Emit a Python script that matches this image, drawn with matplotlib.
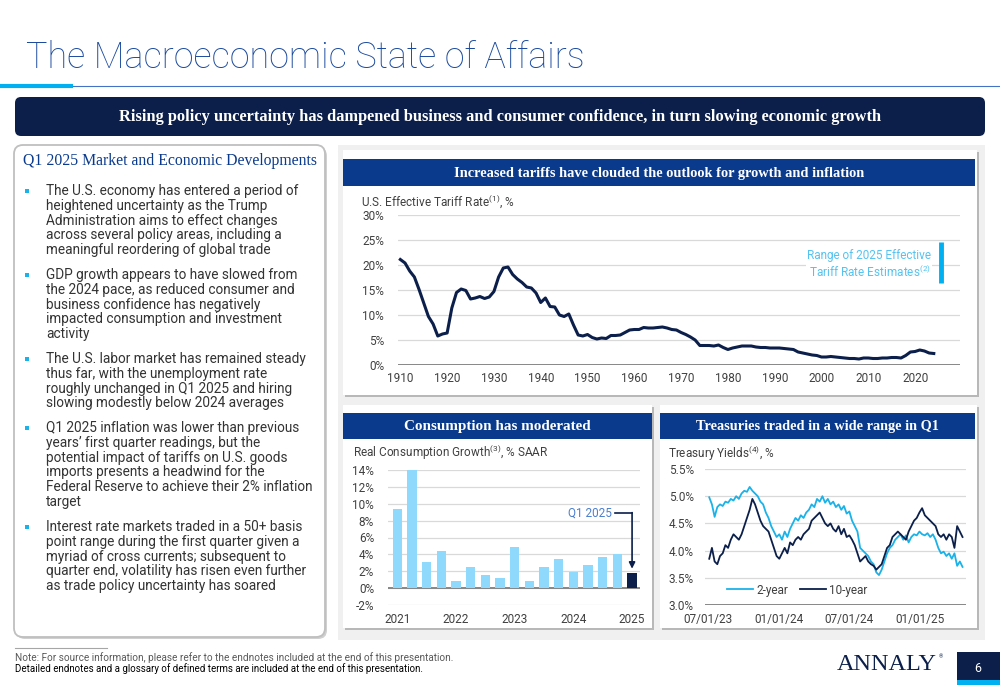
import matplotlib.pyplot as plt
import matplotlib.ticker as mticker
import matplotlib.dates as mdates
from matplotlib.patches import Rectangle, FancyBboxPatch
import pandas as pd

plt.rcParams['font.family'] = ['Roboto', 'DejaVu Sans']
plt.rcParams['mathtext.default'] = 'regular'

NAVY = '#0b1f4a'
BLUE = '#0a3a8c'
CYAN = '#1ab2e8'
LIGHT = '#8fdafc'
GRID = '#d9d9d9'
TXT = '#404040'
SERIF = ['Liberation Serif', 'DejaVu Serif']

# --- data ---------------------------------------------------------------
tariff_years = list(range(1910, 2025))
tariff_rate = [
    21.1, 20.4, 18.8, 17.6, 15.1, 12.4, 9.7, 8.2, 5.8, 6.2,
    6.4, 11.4, 14.5, 15.2, 14.9, 13.2, 13.4, 13.7, 13.3, 13.6,
    14.7, 17.6, 19.4, 19.6, 18.1, 17.2, 16.5, 15.6, 15.4, 14.4,
    12.5, 13.4, 11.7, 11.6, 10.0, 9.7, 10.2, 8.0, 6.0, 5.8,
    6.1, 5.5, 5.2, 5.4, 5.3, 5.9, 5.9, 6.0, 6.5, 7.0,
    7.1, 7.1, 7.5, 7.4, 7.4, 7.5, 7.6, 7.4, 7.1, 7.0,
    6.5, 6.1, 5.6, 5.0, 3.9, 3.9, 3.9, 3.8, 4.0, 3.5,
    3.1, 3.4, 3.6, 3.8, 3.8, 3.8, 3.6, 3.5, 3.5, 3.4,
    3.4, 3.4, 3.3, 3.2, 3.1, 2.6, 2.4, 2.2, 2.0, 1.9,
    1.6, 1.6, 1.7, 1.6, 1.5, 1.4, 1.3, 1.3, 1.2, 1.4,
    1.4, 1.3, 1.3, 1.4, 1.4, 1.5, 1.5, 1.4, 1.9, 2.6,
    2.7, 3.0, 2.8, 2.4, 2.3,
]
tariff_range_2025 = [16.5, 24.5]
tariff_ticks = list(range(1910, 2021, 10))

cons_growth = [9.4, 14.0, 3.1, 4.4, 0.9, 2.5, 1.5, 1.2, 4.9, 0.9,
               2.5, 3.4, 1.9, 2.8, 3.7, 4.0, 1.8]
cons_tick_pos = [0, 4, 8, 12, 16]
cons_tick_labels = ['2021', '2022', '2023', '2024', '2025']

yield_start = '2023-07-03'
two_year = [
    4.98, 4.85, 4.62, 4.80, 4.85, 4.82, 4.90, 4.88, 4.95, 4.92,
    5.00, 4.95, 5.05, 5.10, 5.08, 5.17, 5.10, 5.05, 5.00, 4.90,
    4.85, 4.70, 4.60, 4.45, 4.35, 4.25, 4.30, 4.20, 4.35, 4.25,
    4.40, 4.50, 4.60, 4.55, 4.65, 4.60, 4.70, 4.75, 4.85, 4.80,
    4.95, 4.90, 5.00, 4.88, 4.95, 4.85, 4.90, 4.80, 4.85, 4.75,
    4.82, 4.68, 4.72, 4.55, 4.45, 4.35, 4.05, 4.00, 3.95, 3.90,
    3.80, 3.75, 3.60, 3.55, 3.65, 3.80, 3.95, 4.05, 4.10, 4.20,
    4.25, 4.30, 4.20, 4.28, 4.15, 4.25, 4.30, 4.28, 4.35, 4.30,
    4.28, 4.32, 4.25, 4.30, 4.20, 4.05, 3.95, 3.98, 3.90, 3.95,
    3.85, 3.95, 3.72, 3.80, 3.70,
]
ten_year = [
    3.85, 4.05, 3.80, 3.75, 3.90, 3.95, 4.10, 4.05, 4.20, 4.30,
    4.25, 4.20, 4.30, 4.45, 4.60, 4.75, 4.95, 4.85, 4.70, 4.55,
    4.45, 4.40, 4.35, 4.20, 4.05, 3.90, 3.85, 3.95, 4.05, 3.95,
    4.15, 4.10, 4.20, 4.25, 4.20, 4.30, 4.35, 4.40, 4.55, 4.60,
    4.65, 4.70, 4.60, 4.50, 4.45, 4.50, 4.40, 4.35, 4.45, 4.30,
    4.40, 4.25, 4.28, 4.20, 4.10, 3.95, 3.80, 3.85, 3.90, 3.80,
    3.75, 3.72, 3.65, 3.70, 3.75, 3.90, 4.05, 4.10, 4.25, 4.30,
    4.35, 4.30, 4.25, 4.20, 4.35, 4.45, 4.55, 4.60, 4.70, 4.78,
    4.65, 4.60, 4.55, 4.50, 4.45, 4.30, 4.25, 4.30, 4.20, 4.30,
    4.25, 4.05, 4.45, 4.35, 4.25,
]
yield_ticks = ['2023-07-01', '2024-01-01', '2024-07-01', '2025-01-01']

bullets = [
    ["The U.S. economy has entered a period of",
     "heightened uncertainty as the Trump",
     "Administration aims to effect changes",
     "across several policy areas, including a",
     "meaningful reordering of global trade"],
    ["GDP growth appears to have slowed from",
     "the 2024 pace, as reduced consumer and",
     "business confidence has negatively",
     "impacted consumption and investment",
     "activity"],
    ["The U.S. labor market has remained steady",
     "thus far, with the unemployment rate",
     "roughly unchanged in Q1 2025 and hiring",
     "slowing modestly below 2024 averages"],
    ["Q1 2025 inflation was lower than previous",
     "years\u2019 first quarter readings, but the",
     "potential impact of tariffs on U.S. goods",
     "imports presents a headwind for the",
     "Federal Reserve to achieve their 2% inflation",
     "target"],
    ["Interest rate markets traded in a 50+ basis",
     "point range during the first quarter given a",
     "myriad of cross currents; subsequent to",
     "quarter end, volatility has risen even further",
     "as trade policy uncertainty has soared"],
]
bullet_y = [191, 275, 359, 428, 527]


def px(x0, y0, x1, y1):
    # pixel box (top-left origin) -> figure fraction rect
    return [x0 / 1000, 1 - y1 / 685, (x1 - x0) / 1000, (y1 - y0) / 685]


fig = plt.figure(figsize=(10, 6.85), dpi=100)

# background layer in pixel coordinates
bg = fig.add_axes([0, 0, 1, 1])
bg.set_xlim(0, 1000)
bg.set_ylim(685, 0)
bg.axis('off')

bg.text(26, 58, 'The Macroeconomic State of Affairs', fontsize=25.8, color='#1a4a9e',
        fontweight='light', va='center', ha='left')
bg.plot([0, 73], [86, 86], color='#00b0f0', lw=3, solid_capstyle='butt')
bg.plot([73, 1000], [86, 86], color='#4472c4', lw=0.8)

bg.add_patch(FancyBboxPatch((15, 97), 970, 39, boxstyle='round,pad=0,rounding_size=6',
                            fc=NAVY, ec='none'))
bg.text(500, 116.5, 'Rising policy uncertainty has dampened business and consumer confidence, '
        'in turn slowing economic growth', color='white', fontsize=11.8, fontweight='bold',
        family=SERIF, ha='center', va='center')

# left panel
bg.add_patch(FancyBboxPatch((16, 147), 311, 492, boxstyle='round,pad=0,rounding_size=9',
                            fc='#d0d0d0', ec='none'))
bg.add_patch(FancyBboxPatch((14, 145), 311, 492, boxstyle='round,pad=0,rounding_size=9',
                            fc='white', ec='#bfbfbf', lw=1.3))
bg.text(23, 161, 'Q1 2025 Market and Economic Developments', color=BLUE, fontsize=11.3,
        family=SERIF, ha='left', va='center')
for lines, y0 in zip(bullets, bullet_y):
    bg.add_patch(Rectangle((24.5, y0 - 2.5), 4.5, 4.5, fc=CYAN, ec='none'))
    for k, line in enumerate(lines):
        bg.text(46, y0 + k * 14.8, line, fontsize=9.8, color='#333333', ha='left', va='center')

# right area: grey backdrop and white cards
bg.add_patch(Rectangle((338, 145), 647, 495, fc='#f0f0f0', ec='none'))
cards = [(343, 150, 977, 395), (343, 405, 652, 628), (660, 405, 977, 628)]
for x0, y0, x1, y1 in cards:
    bg.add_patch(Rectangle((x0 + 2, y0 + 2), x1 - x0, y1 - y0, fc='#b8b8b8', ec='none'))
    bg.add_patch(Rectangle((x0, y0), x1 - x0, y1 - y0, fc='white', ec='none'))

headers = [(343, 159, 975, 186, 'Increased tariffs have clouded the outlook for growth and inflation', 10.4),
           (343, 413, 652, 439, 'Consumption has moderated', 10.9),
           (660, 413, 975, 439, 'Treasuries traded in a wide range in Q1', 10.3)]
for x0, y0, x1, y1, label, fs in headers:
    bg.add_patch(Rectangle((x0, y0), x1 - x0, y1 - y0, fc=BLUE, ec='none'))
    bg.text((x0 + x1) / 2, (y0 + y1) / 2 + 0.5, label, color='white', fontsize=fs,
            fontweight='bold', family=SERIF, ha='center', va='center')

# footer
bg.plot([15, 107], [648, 648], color='#a6a6a6', lw=0.8)
bg.text(15, 658, 'Note: For source information, please refer to the endnotes included at the end '
        'of this presentation.', fontsize=7.2, color='#595959', ha='left', va='center')
bg.text(15, 669, 'Detailed endnotes and a glossary of defined terms are included at the end of '
        'this presentation.', fontsize=7.0, color='black', ha='left', va='center')
bg.text(837, 664, 'ANNALY', fontsize=17.5, family=SERIF, color=NAVY, ha='left', va='center')
bg.text(939, 657, '\u00ae', fontsize=4, color=NAVY, ha='left', va='center')
bg.add_patch(Rectangle((957, 652), 43, 28, fc=NAVY, ec='none'))
bg.add_patch(Rectangle((957, 680), 43, 5, fc='#00b0f0', ec='none'))
bg.text(978, 668, '6', color='white', fontsize=9, ha='center', va='center')


def style(ax, base):
    ax.set_facecolor('none')
    for s in ['top', 'right', 'left', 'bottom']:
        ax.spines[s].set_visible(False)
    ax.grid(axis='y', color=GRID, lw=0.9)
    ax.set_axisbelow(True)
    ax.axhline(base, color='#7f7f7f', lw=1.3, zorder=2)
    ax.tick_params(length=0, labelsize=8.5, labelcolor=TXT)


# top chart: effective tariff rate
ax1 = fig.add_axes(px(398, 215, 960, 365))
style(ax1, 0)
ax1.plot(tariff_years, tariff_rate, color=NAVY, lw=2.2, zorder=3)
ax1.set_xlim(1909.5, 2029.6)
ax1.set_ylim(0, 30)
ax1.set_yticks(range(0, 31, 5))
ax1.yaxis.set_major_formatter(mticker.FuncFormatter(lambda v, p: f'{v:.0f}%'))
ax1.set_xticks(tariff_ticks)
ax1.tick_params(axis='x', pad=5)
ax1.tick_params(axis='y', pad=10)
ax1.plot([2025.6, 2025.6], tariff_range_2025, color='#00b0f0', lw=3.5,
         solid_capstyle='butt', zorder=3)
ax1.text(2023.4, 20.1, 'Range of 2025 Effective\nTariff Rate Estimates$^{(2)}$', ha='right',
         va='center', multialignment='right', fontsize=8.5, color='#55c3f0', linespacing=1.1,
         bbox=dict(fc='white', ec='none', pad=1), zorder=4)
bg.text(361, 202, 'U.S. Effective Tariff Rate$^{(1)}$, %', fontsize=8.5, color=TXT,
        ha='left', va='center')

# bottom left: consumption
ax2 = fig.add_axes(px(388, 470, 640, 605))
style(ax2, 0)
xs = list(range(len(cons_growth)))
colors = [LIGHT] * (len(cons_growth) - 1) + [NAVY]
ax2.bar(xs, cons_growth, width=0.64, color=colors, zorder=2)
ax2.set_xlim(-0.63, 16.54)
ax2.set_ylim(-2, 14)
ax2.set_yticks(range(-2, 15, 2))
ax2.yaxis.set_major_formatter(mticker.FuncFormatter(lambda v, p: f'{v:.0f}%'))
ax2.set_xticks(cons_tick_pos)
ax2.set_xticklabels(cons_tick_labels)
ax2.tick_params(axis='x', pad=6)
ax2.tick_params(axis='y', pad=10)
ax2.text(14.6, 8.9, 'Q1 2025', ha='right', va='center', fontsize=8.5, color='#4a7fd0')
ax2.plot([14.85, 16], [8.9, 8.9], color=NAVY, lw=1.2, zorder=3)
ax2.annotate('', xy=(16, 2.3), xytext=(16, 8.95),
             arrowprops=dict(arrowstyle='-|>', color=NAVY, lw=1.2, mutation_scale=9,
                             shrinkA=0, shrinkB=0), zorder=3)
bg.text(353, 452, 'Real Consumption Growth$^{(3)}$, % SAAR', fontsize=8.5, color=TXT,
        ha='left', va='center')

# bottom right: treasury yields
dates = pd.date_range(yield_start, periods=len(two_year), freq='7D')
ax3 = fig.add_axes(px(705, 469, 966, 605))
style(ax3, 3.0)
ax3.plot(dates, two_year, color=CYAN, lw=1.3, label='2-year', zorder=3)
ax3.plot(dates, ten_year, color=NAVY, lw=1.3, label='10-year', zorder=3)
ax3.set_xlim(pd.Timestamp('2023-06-22'), pd.Timestamp('2025-04-30'))
ax3.set_ylim(3.0, 5.5)
ax3.set_yticks([3.0, 3.5, 4.0, 4.5, 5.0, 5.5])
ax3.yaxis.set_major_formatter(mticker.FuncFormatter(lambda v, p: f'{v:.1f}%'))
ax3.set_xticks(pd.to_datetime(yield_ticks))
ax3.xaxis.set_major_formatter(mdates.DateFormatter('%m/%d/%y'))
ax3.tick_params(axis='x', pad=6)
ax3.tick_params(axis='y', pad=8)
ax3.legend(loc='center left', bbox_to_anchor=(0.06, 0.11), frameon=False, ncol=2,
           handlelength=2.2, columnspacing=1.0, handletextpad=0.3, borderpad=0,
           fontsize=8.5, labelcolor=TXT)
bg.text(668, 453, 'Treasury Yields$^{(4)}$, %', fontsize=8.5, color=TXT,
        ha='left', va='center')

fig.savefig('out.png', dpi=100)
